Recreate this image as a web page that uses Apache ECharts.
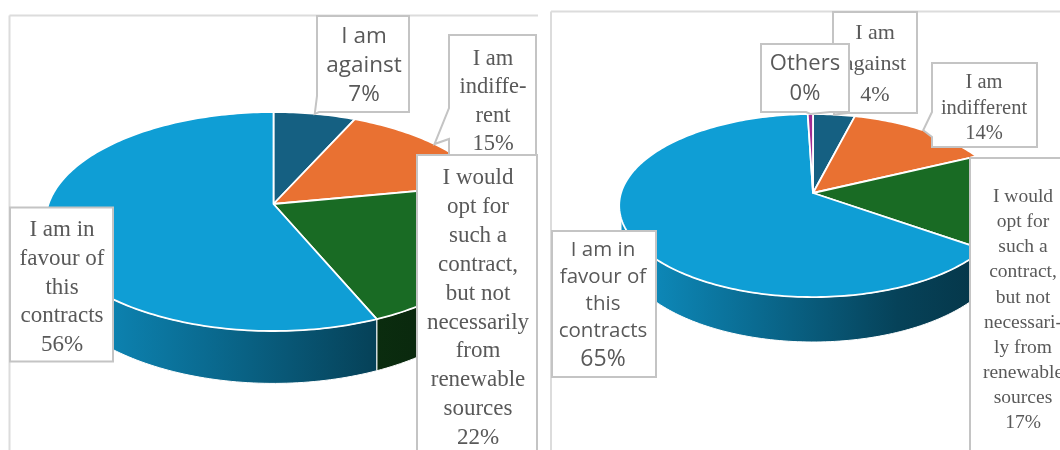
<!DOCTYPE html>
<html><head><meta charset="utf-8">
<style>html,body{margin:0;padding:0;background:#fff}#c{width:1060px;height:450px}</style>
<script src="https://cdn.jsdelivr.net/npm/echarts@6/dist/echarts.min.js"></script>
</head><body><div id="c"></div>
<script>
// ---------- data ----------
const leftCategories = ['I am\nagainst', 'I am\nindiffe-\nrent', 'I would\nopt for\nsuch a\ncontract,\nbut not\nnecessarily\nfrom\nrenewable\nsources', 'I am in\nfavour of\nthis\ncontracts'];
const leftValues = [6.8, 15.2, 21.6, 56.4];
const leftPercentLabels = ['7%', '15%', '22%', '56%'];
const rightCategories = ['I am\nagainst', 'I am\nindifferent', 'I would\nopt for\nsuch a\ncontract,\nbut not\nnecessari-\nly from\nrenewable\nsources', 'I am in\nfavour of\nthis\ncontracts', 'Others'];
const rightValues = [4, 14, 17, 65, 0.5];
const rightPercentLabels = ['4%', '14%', '17%', '65%', '0%'];

// ---------- style and layout ----------
const BLUE = '#156082', ORANGE = '#E97132', GREEN = '#196B24', SKY = '#0F9ED5', PURPLE = '#A02B93';
const leftColors = [BLUE, ORANGE, GREEN, SKY];
const rightColors = [BLUE, ORANGE, GREEN, SKY, PURPLE];
const SANS = '"Open Sans"', SERIF = '"Liberation Serif"';
const leftPie = {cx: 273.5, cy: 204, R: 225, S: 106.7, k: 0.16, D: 44};
const rightPie = {cx: 813, cy: 193, R: 192, S: 89.8, k: 0.137, D: 38.8};
const leftBoxes = [
  {l: 317, t: 16, r: 409, b: 112, mid: 364, y0: 37, step: 29, font: SANS, size: 22.5, cut: 'corner', a: 319, c: 96},
  {l: 449, t: 35, r: 536, b: 160, mid: 493, y0: 59, step: 28.4, font: SERIF, size: 22.5, cut: 'left', a: 108, c: 139},
  {l: 417, t: 155, r: 537, b: 470, mid: 478, y0: 178, step: 28.9, font: SERIF, size: 23},
  {l: 10, t: 207.5, r: 113, b: 361.5, mid: 62, y0: 230, step: 28.8, font: SERIF, size: 23}
];
const rightBoxes = [
  {l: 833, t: 12, r: 917, b: 113, mid: 875, y0: 33, step: 31, font: SERIF, size: 22, cut: 'corner', a: 848, c: 98},
  {l: 932, t: 63, r: 1037, b: 147, mid: 984, y0: 83, step: 25.5, font: SERIF, size: 20.5, cut: 'left', a: 112, c: 137},
  {l: 970, t: 158, r: 1080, b: 470, mid: 1023, y0: 197, step: 25.1, font: SERIF, size: 19.5},
  {l: 552, t: 231, r: 656, b: 377, mid: 603, y0: 250, step: 27, font: SANS, size: 20.5, lastSize: 23, lastExtra: 1},
  {l: 761, t: 44, r: 849, b: 112, mid: 805, y0: 64, step: 30, font: SANS, size: 22, cut: 'bottom', a: 806, c: 830}
];

// perspective mapping of a point on the unit disc to the screen; p is percent clockwise from top
function project(pie, p, radius, drop) {
  const a = p / 100 * 2 * Math.PI, u = Math.sin(a) * radius, v = -Math.cos(a) * radius;
  const w = 1 - pie.k * v;
  return [pie.cx + pie.R * u / w, pie.cy + pie.S * v / w + (drop ? pie.D / w : 0)];
}
function arc(pie, from, to, drop) {
  const pts = [], n = Math.max(2, Math.ceil((to - from) * 3));
  for (let i = 0; i <= n; i++) pts.push(project(pie, from + (to - from) * i / n, 1, drop));
  return pts;
}
function shade(hex, f) {
  const n = parseInt(hex.slice(1), 16);
  return 'rgb(' + [(n >> 16) & 255, (n >> 8) & 255, n & 255].map(c => Math.round(c * f)).join(',') + ')';
}
function rows(values) {
  const total = values.reduce((a, b) => a + b, 0);
  let run = 0;
  return values.map(v => { const s = run; run += v / total * 100; return [s, v / total * 100]; });
}
function wallSeries(pie, values, colors) {
  return {
    type: 'custom', coordinateSystem: 'none', z: 1, silent: true, animation: false, clip: false,
    data: rows(values),
    renderItem(params, api) {
      const from = Math.max(api.value(0), 25), to = Math.min(api.value(0) + api.value(1), 75);
      if (to <= from) return {type: 'group', children: []};
      const col = colors[params.dataIndex];
      return {
        type: 'polygon',
        shape: {points: arc(pie, from, to, false).concat(arc(pie, from, to, true).reverse())},
        style: {
          stroke: '#fff', lineWidth: 1,
          fill: new echarts.graphic.LinearGradient(pie.cx - pie.R, 0, pie.cx + pie.R, 0, [
            {offset: 0, color: shade(col, 0.92)},
            {offset: 0.35, color: shade(col, 0.68)},
            {offset: 0.72, color: shade(col, 0.42)},
            {offset: 1, color: shade(col, 0.32)}
          ], true)
        }
      };
    }
  };
}
function faceSeries(pie, values, colors) {
  return {
    type: 'custom', coordinateSystem: 'none', z: 2, silent: true, animation: false, clip: false,
    data: rows(values),
    renderItem(params, api) {
      const from = api.value(0), to = from + api.value(1);
      return {
        type: 'polygon',
        shape: {points: [project(pie, 0, 0, false)].concat(arc(pie, from, to, false))},
        style: {fill: colors[params.dataIndex], stroke: '#fff', lineWidth: 1.8, lineJoin: 'round'}
      };
    }
  };
}
function labelSeries(pie, values, names, pcts, boxes) {
  return {
    type: 'custom', coordinateSystem: 'none', z: 3, silent: true, animation: false, clip: false,
    data: rows(values),
    renderItem(params, api) {
      const i = params.dataIndex, B = boxes[i];
      const tip = project(pie, api.value(0) + api.value(1) / 2, 1, false);
      const tl = [B.l, B.t], tr = [B.r, B.t], br = [B.r, B.b], bl = [B.l, B.b];
      let ring = [tl, tr, br, bl];
      if (B.cut === 'left') ring = [tl, tr, br, bl, [B.l, B.c], tip, [B.l, B.a]];
      if (B.cut === 'bottom') ring = [tl, tr, br, [B.c, B.b], tip, [B.a, B.b], bl];
      if (B.cut === 'corner') ring = [tl, tr, br, [B.a, B.b], tip, [B.l, B.c]];
      const kids = [{type: 'polygon', z2: 10 * i, shape: {points: ring},
        style: {fill: '#fff', stroke: '#c4c4c4', lineWidth: 2}}];
      const lines = names[i].split('\n').concat(pcts[i]);
      lines.forEach((t, j) => {
        const last = j === lines.length - 1;
        kids.push({type: 'text', z2: 10 * i + 1, x: B.mid, y: B.y0 + j * B.step + (last && B.lastExtra ? B.lastExtra : 0),
          style: {text: t, textAlign: 'center', textVerticalAlign: 'middle', fill: '#595959',
            font: ((last && B.lastSize) || B.size) + 'px ' + B.font}});
      });
      return {type: 'group', children: kids};
    }
  };
}
function frame(x0, x1, y0, color) {
  return [
    {type: 'line', shape: {x1: x0, y1: y0, x2: x1, y2: y0}, style: {stroke: color, lineWidth: 2}, silent: true},
    {type: 'line', shape: {x1: x0, y1: y0, x2: x0, y2: 450}, style: {stroke: color, lineWidth: 2}, silent: true}
  ];
}
const chart = echarts.init(document.getElementById('c'), null, {renderer: 'canvas'});
chart.setOption({
  animation: false,
  backgroundColor: '#fff',
  graphic: frame(9.5, 538, 15.5, '#dcdcdc').concat(frame(551, 1060, 11.5, '#dcdcdc')),
  series: [
    wallSeries(leftPie, leftValues, leftColors),
    faceSeries(leftPie, leftValues, leftColors),
    labelSeries(leftPie, leftValues, leftCategories, leftPercentLabels, leftBoxes),
    wallSeries(rightPie, rightValues, rightColors),
    faceSeries(rightPie, rightValues, rightColors),
    labelSeries(rightPie, rightValues, rightCategories, rightPercentLabels, rightBoxes)
  ]
});
</script></body></html>
